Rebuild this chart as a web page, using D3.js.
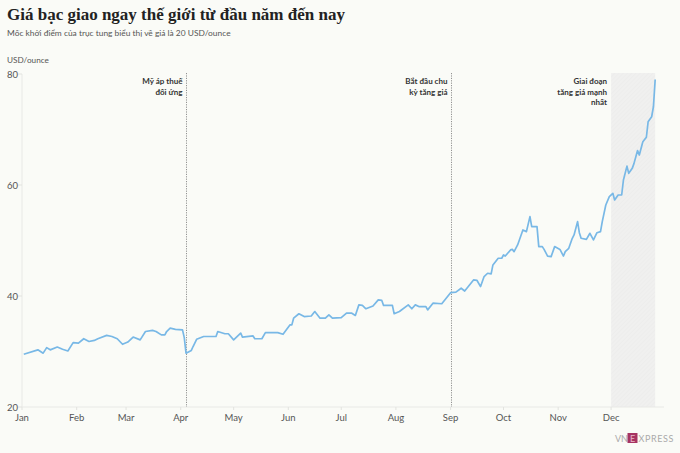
<!DOCTYPE html>
<html>
<head>
<meta charset="utf-8">
<script src="https://cdn.jsdelivr.net/npm/d3@7"></script>
<style>
  body { margin: 0; background: #fafbf7; }
  svg { display: block; }
  .tick-lbl { font-family: Lato, "Noto Sans", sans-serif; font-size: 9.5px; fill: #555; }
  .note { font-family: Lato, "Noto Sans", sans-serif; font-size: 8px; font-weight: bold; fill: #333; }
</style>
</head>
<body>
<div id="chart"></div>
<script>
// silver spot price, USD/ounce
var dates = ["2025-01-02","2025-01-10","2025-01-13","2025-01-15","2025-01-17","2025-01-21","2025-01-24","2025-01-27","2025-01-30",
  "2025-02-02","2025-02-05","2025-02-08","2025-02-11","2025-02-13","2025-02-18","2025-02-21","2025-02-24","2025-02-27",
  "2025-03-02","2025-03-05","2025-03-09","2025-03-12","2025-03-16","2025-03-18","2025-03-21","2025-03-23","2025-03-24","2025-03-26","2025-03-29",
  "2025-04-02","2025-04-03","2025-04-04","2025-04-07","2025-04-08","2025-04-10","2025-04-14","2025-04-21","2025-04-22","2025-04-26","2025-04-28",
  "2025-05-01","2025-05-05","2025-05-06","2025-05-12","2025-05-13","2025-05-17","2025-05-19","2025-05-22","2025-05-26","2025-05-29",
  "2025-06-02","2025-06-03","2025-06-04","2025-06-07","2025-06-10","2025-06-14","2025-06-16","2025-06-19","2025-06-22","2025-06-24","2025-06-26",
  "2025-07-01","2025-07-04","2025-07-07","2025-07-09","2025-07-11","2025-07-13","2025-07-15","2025-07-19","2025-07-22","2025-07-24","2025-07-25","2025-07-30","2025-07-31",
  "2025-08-03","2025-08-08","2025-08-10","2025-08-12","2025-08-14","2025-08-18","2025-08-19","2025-08-22","2025-08-27",
  "2025-09-01","2025-09-04","2025-09-07","2025-09-09","2025-09-14","2025-09-16","2025-09-18","2025-09-20","2025-09-22","2025-09-24","2025-09-25","2025-09-28","2025-09-30",
  "2025-10-01","2025-10-02","2025-10-05","2025-10-06","2025-10-07","2025-10-09","2025-10-10","2025-10-12","2025-10-14","2025-10-16","2025-10-17","2025-10-20","2025-10-21","2025-10-23","2025-10-24","2025-10-26","2025-10-28","2025-10-30",
  "2025-11-02","2025-11-04","2025-11-05","2025-11-07","2025-11-09","2025-11-10","2025-11-12","2025-11-13","2025-11-14","2025-11-17","2025-11-19","2025-11-21","2025-11-23","2025-11-25","2025-11-26","2025-11-28","2025-11-30",
  "2025-12-02","2025-12-03","2025-12-05","2025-12-07","2025-12-08","2025-12-10","2025-12-11","2025-12-13","2025-12-14","2025-12-16","2025-12-17","2025-12-19","2025-12-21","2025-12-22","2025-12-24","2025-12-25","2025-12-26"];
var prices = [29.5,30.3,29.7,30.7,30.3,30.8,30.4,30.1,31.6,
  31.5,32.3,31.8,32.0,32.3,32.9,32.7,32.3,31.3,
  31.7,32.6,32.1,33.6,33.8,33.6,33.0,33.0,33.6,34.2,34.0,
  33.9,32.5,29.7,30.2,30.9,32.2,32.7,32.7,33.6,33.2,33.2,
  32.1,33.3,32.6,32.8,32.3,32.3,33.4,33.4,33.4,33.1,
  34.8,34.8,36.0,36.8,36.3,36.4,37.2,36.0,36.0,36.6,36.0,
  36.1,36.9,36.9,36.5,38.4,38.3,37.7,38.2,39.3,39.2,38.3,38.3,36.8,
  37.2,38.4,37.7,38.4,38.1,38.1,37.5,38.7,38.6,
  40.6,40.7,41.4,40.9,42.9,42.8,41.7,43.5,44.1,44.0,45.6,46.8,46.8,
  47.4,47.2,48.3,48.4,48.0,49.2,50.1,51.9,51.6,54.3,52.5,52.5,48.9,48.9,48.4,47.2,47.1,48.9,
  48.4,47.2,48.0,48.6,50.4,51.0,53.4,51.4,50.4,50.2,51.3,50.1,51.4,51.6,53.4,56.4,57.9,
  58.5,57.3,58.2,58.2,60.9,63.4,62.1,63.0,63.9,66.2,65.4,67.8,68.6,71.4,72.3,74.1,79.0];

var monthLabels = ["Jan","Feb","Mar","Apr","May","Jun","Jul","Aug","Sep","Oct","Nov","Dec"];
var yTicks = [20, 40, 60, 80];

var notes = [
  { date: "2025-04-04", lines: ["Mỹ áp thuế", "đối ứng"] },
  { date: "2025-09-01", lines: ["Bắt đầu chu", "kỳ tăng giá"] }
];
var strongStart = "2025-12-01", strongEnd = "2025-12-26";
var strongLines = ["Giai đoạn", "tăng giá mạnh", "nhất"];

var width = 680, height = 453;
var parse = d3.utcParse("%Y-%m-%d");
var data = dates.map(function(d, i) { return { date: parse(d), value: prices[i] }; });

var svg = d3.select("#chart").append("svg")
    .attr("width", width)
    .attr("height", height);

svg.append("rect").attr("width", width).attr("height", height).attr("fill", "#fafbf7");

var x = d3.scaleUtc()
    .domain([parse("2025-01-01"), parse("2025-12-31")])
    .range([22, 664]);
var y = d3.scaleLinear()
    .domain([20, 80])
    .range([407, 74]);

// hatch for the strong-rise band
var defs = svg.append("defs");
var pat = defs.append("pattern")
    .attr("id", "hatch")
    .attr("patternUnits", "userSpaceOnUse")
    .attr("width", 3).attr("height", 3)
    .attr("patternTransform", "rotate(45)");
pat.append("rect").attr("width", 3).attr("height", 3).attr("fill", "#f0f0ef");
pat.append("line").attr("x1", 0).attr("y1", 0).attr("x2", 0).attr("y2", 3)
    .attr("stroke", "#eaeae9").attr("stroke-width", 0.8);

svg.append("rect")
    .attr("x", x(parse(strongStart)))
    .attr("y", y(80) - 1)
    .attr("width", x(parse(strongEnd)) - x(parse(strongStart)))
    .attr("height", y(20) - y(80) + 1)
    .attr("fill", "url(#hatch)");

// axes
svg.append("line")
    .attr("x1", x.range()[0]).attr("x2", x.range()[0])
    .attr("y1", y(80)).attr("y2", y(20))
    .attr("stroke", "#e8e9e6");
svg.append("line")
    .attr("x1", x.range()[0]).attr("x2", x.range()[1])
    .attr("y1", y(20)).attr("y2", y(20))
    .attr("stroke", "#e8e9e6");

var yAxis = svg.append("g");
yAxis.selectAll("line").data(yTicks).join("line")
    .attr("x1", 18).attr("x2", 22)
    .attr("y1", function(d) { return y(d); }).attr("y2", function(d) { return y(d); })
    .attr("stroke", "#e2e3df");
yAxis.selectAll("text").data(yTicks).join("text")
    .attr("class", "tick-lbl")
    .attr("x", 7)
    .attr("y", function(d) { return y(d) + 3.5; })
    .text(function(d) { return d; });

var months = d3.utcMonths(parse("2025-01-01"), parse("2025-12-31"));
var xAxis = svg.append("g");
xAxis.selectAll("line").data(months).join("line")
    .attr("x1", function(d) { return x(d); }).attr("x2", function(d) { return x(d); })
    .attr("y1", y(20)).attr("y2", y(20) + 3)
    .attr("stroke", "#e2e3df");
xAxis.selectAll("text").data(months).join("text")
    .attr("class", "tick-lbl")
    .attr("x", function(d) { return x(d); })
    .attr("y", 421)
    .attr("text-anchor", "middle")
    .text(function(d, i) { return monthLabels[i]; });

// event lines
notes.forEach(function(n) {
  var nx = Math.round(x(parse(n.date))) + 0.5;
  svg.append("line")
      .attr("x1", nx).attr("x2", nx)
      .attr("y1", y(80) - 1).attr("y2", y(20))
      .attr("stroke", "#777")
      .attr("stroke-width", 0.8)
      .attr("stroke-dasharray", "1.2,1.2");
  var t = svg.append("text").attr("class", "note").attr("text-anchor", "end");
  n.lines.forEach(function(l, i) {
    t.append("tspan").attr("x", nx - 4).attr("y", 84 + i * 10.5).text(l);
  });
});

var st = svg.append("text").attr("class", "note").attr("text-anchor", "end");
strongLines.forEach(function(l, i) {
  st.append("tspan").attr("x", x(parse(strongStart)) - 4).attr("y", 84 + i * 10.5).text(l);
});

// price line
var line = d3.line()
    .x(function(d) { return x(d.date); })
    .y(function(d) { return y(d.value); });
svg.append("path")
    .datum(data)
    .attr("d", line)
    .attr("fill", "none")
    .attr("stroke", "#78b8e6")
    .attr("stroke-width", 1.7)
    .attr("stroke-linejoin", "round");

// titles
svg.append("text")
    .attr("x", 7).attr("y", 20)
    .attr("font-family", "'Liberation Serif', serif")
    .attr("font-weight", "bold")
    .attr("font-size", 17)
    .attr("fill", "#222")
    .text("Giá bạc giao ngay thế giới từ đầu năm đến nay");
svg.append("text")
    .attr("x", 7).attr("y", 36)
    .attr("class", "tick-lbl")
    .style("font-size", "8.4px")
    .attr("fill", "#444")
    .text("Mốc khởi điểm của trục tung biểu thị về giá là 20 USD/ounce");
svg.append("text")
    .attr("x", 7).attr("y", 63)
    .attr("class", "tick-lbl")
    .style("font-size", "8.2px")
    .attr("fill", "#444")
    .text("USD/ounce");

// logo
var logo = svg.append("g").attr("transform", "translate(615, 442)");
logo.append("text").attr("x", 0).attr("y", 0)
    .attr("font-family", "Lato, sans-serif").attr("font-size", 9).attr("fill", "#aaa")
    .text("VN");
logo.append("rect").attr("x", 12.5).attr("y", -9).attr("width", 10).attr("height", 10).attr("fill", "#a63462");
logo.append("text").attr("x", 17.5).attr("y", 0).attr("text-anchor", "middle")
    .attr("font-family", "Lato, sans-serif").attr("font-size", 9).attr("fill", "#e9b6c8")
    .text("E");
logo.append("text").attr("x", 23.5).attr("y", 0)
    .attr("font-family", "Lato, sans-serif").attr("font-size", 9).attr("fill", "#aaa")
    .attr("letter-spacing", 0.6)
    .text("XPRESS");
</script>
</body>
</html>
